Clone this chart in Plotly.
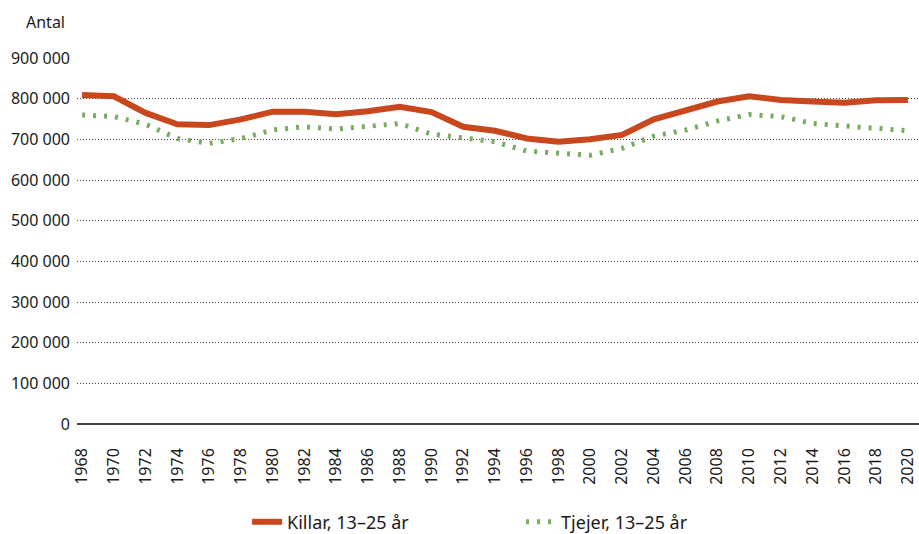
import plotly.graph_objects as go

years = list(range(1968, 2021, 2))
killar = [809000, 806000, 765000, 737000, 735000, 749000, 768000, 768000, 762000,
          769000, 780000, 767000, 731000, 721000, 702000, 694000, 700000, 711000,
          749000, 770000, 793000, 806000, 797000, 793000, 790000, 796000, 797000]
tjejer = [760000, 756000, 737000, 702000, 690000, 702000, 723000, 731000, 725000,
          731000, 739000, 713000, 705000, 694000, 671000, 666000, 661000, 678000,
          708000, 723000, 745000, 761000, 756000, 739000, 733000, 729000, 721000]
y_ticks = list(range(0, 900001, 100000))
y_labels = ["0" if v == 0 else f"{v // 1000} 000" for v in y_ticks]

font_family = "Noto Sans, Open Sans, sans-serif"

fig = go.Figure()
fig.add_trace(go.Scatter(
    x=years, y=killar, mode="lines", name="Killar, 13–25 år",
    line=dict(color="#c9471d", width=6),
))
fig.add_trace(go.Scatter(
    x=years, y=tjejer, mode="lines", name="Tjejer, 13–25 år",
    line=dict(color="#7aab62", width=5, dash="3px,8px"),
))

fig.update_layout(
    width=919, height=534,
    template="plotly_white",
    plot_bgcolor="white",
    paper_bgcolor="white",
    margin=dict(l=77, r=0, t=58, b=110, autoexpand=False),
    font=dict(family=font_family, size=16, color="#1a1a1a"),
    showlegend=True,
    legend=dict(
        orientation="h",
        xanchor="left", x=0.202,
        yanchor="middle", y=-0.268,
        entrywidth=229, entrywidthmode="pixels",
        font=dict(size=18),
    ),
    annotations=[dict(
        text="Antal", xref="paper", yref="paper",
        x=-53 / 842, y=1 + 36 / 366, xanchor="left", yanchor="middle",
        showarrow=False, font=dict(size=16),
    )],
)

fig.update_xaxes(
    range=[1967.68, 2020.7],
    tickmode="array", tickvals=years, ticktext=[str(y) for y in years],
    tickangle=-90, showgrid=False, zeroline=False,
    showline=False, ticks="", tickfont=dict(size=16),
    ticklabelstandoff=20, automargin=False,
)
fig.update_yaxes(
    range=[0, 900000],
    tickmode="array", tickvals=y_ticks, ticktext=y_labels,
    showgrid=True, gridcolor="#444444", gridwidth=1, griddash="1px,2px",
    zeroline=True, zerolinecolor="#444444", zerolinewidth=1.5,
    showline=False, ticks="", tickfont=dict(size=16),
    ticklabelstandoff=6, automargin=False,
)

fig.write_html("out.html", config={"displayModeBar": False},
               post_script="document.body.style.margin='0';")
